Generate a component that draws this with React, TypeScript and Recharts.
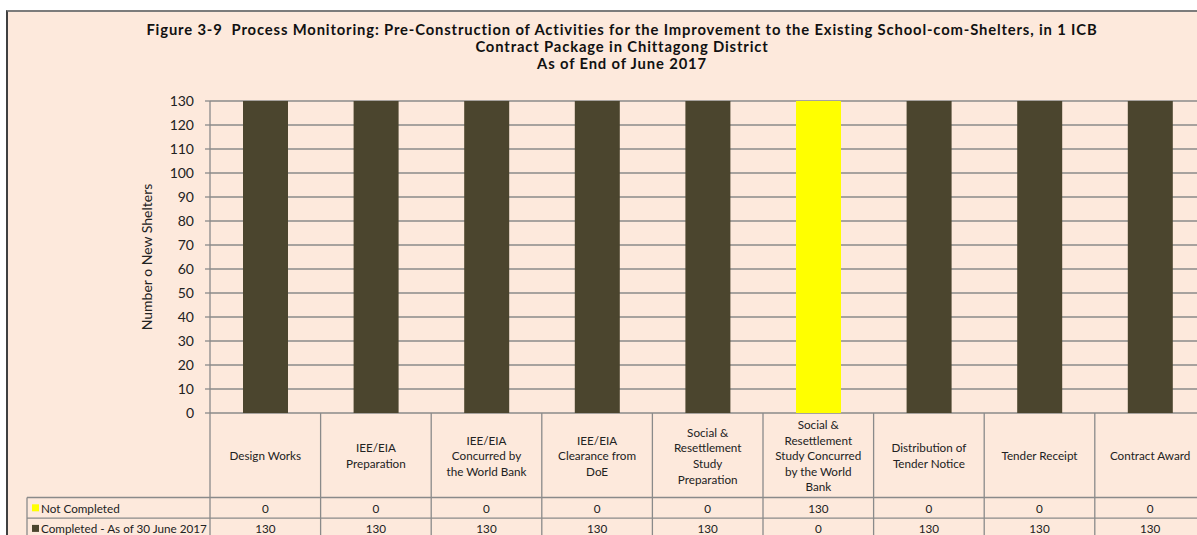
import React from 'react';
import { BarChart, Bar, XAxis, YAxis, CartesianGrid } from 'recharts';

const categories = [
  'Design Works',
  'IEE/EIA Preparation',
  'IEE/EIA Concurred by the World Bank',
  'IEE/EIA Clearance from DoE',
  'Social & Resettlement Study Preparation',
  'Social & Resettlement Study Concurred by the World Bank',
  'Distribution of Tender Notice',
  'Tender Receipt',
  'Contract Award',
];
const categoryLines = [
  ['Design Works'],
  ['IEE/EIA', 'Preparation'],
  ['IEE/EIA', 'Concurred by', 'the World Bank'],
  ['IEE/EIA', 'Clearance from', 'DoE'],
  ['Social &', 'Resettlement', 'Study', 'Preparation'],
  ['Social &', 'Resettlement', 'Study Concurred', 'by the World', 'Bank'],
  ['Distribution of', 'Tender Notice'],
  ['Tender Receipt'],
  ['Contract Award'],
];
const notCompleted = [0, 0, 0, 0, 0, 130, 0, 0, 0];
const completed = [130, 130, 130, 130, 130, 0, 130, 130, 130];
const yTicks = [0, 10, 20, 30, 40, 50, 60, 70, 80, 90, 100, 110, 120, 130];
const seriesNames = ['Not Completed', 'Completed - As of 30 June 2017'];
const titleLines = [
  'Figure 3-9  Process Monitoring: Pre-Construction of Activities for the Improvement to the Existing School-com-Shelters, in 1 ICB',
  'Contract Package in Chittagong District',
  'As of End of June 2017',
];

const data = categories.map((name, i) => ({
  name,
  notCompleted: notCompleted[i],
  completed: completed[i],
}));

const CHART_W = 1300;
const CHART_H = 535;
const PLOT_LEFT = 210;
const PLOT_W = 995.4;
const HEADER_H = 84.5;
const ROW_H = 20.6;
const LEGEND_LEFT = 27;
const GRID = '#8a8a8a';
const DARK = '#4b452e';
const YELLOW = '#ffff00';
const FONT = 'Lato, "Open Sans", sans-serif';
const TFS = 11.7;

const TableTick = (props: any) => {
  const { x, y, payload } = props;
  const i = payload.index;
  const cw = PLOT_W / categories.length;
  const lines = categoryLines[i] || [categories[i]];
  const lh = 15.6;
  const midY = y + HEADER_H / 2;
  const startY = midY - ((lines.length - 1) * lh) / 2;
  const row1 = y + HEADER_H;
  const row2 = row1 + ROW_H;
  const row3 = row2 + ROW_H;
  const left = x - cw / 2;
  const right = x + cw / 2;
  return (
    <g>
      {i === 0 && (
        <g>
          <line x1={left} y1={y} x2={left} y2={row3 + 10} stroke={GRID} strokeWidth={1.3} />
          <line x1={LEGEND_LEFT} y1={row1} x2={left} y2={row1} stroke={GRID} strokeWidth={1.3} />
          <line x1={LEGEND_LEFT} y1={row2} x2={left} y2={row2} stroke={GRID} strokeWidth={1.3} />
          <line x1={LEGEND_LEFT} y1={row1} x2={LEGEND_LEFT} y2={row3 + 10} stroke={GRID} strokeWidth={1.3} />
          <rect x={LEGEND_LEFT + 5} y={row1 + ROW_H / 2 - 3.5} width={7} height={7} fill={YELLOW} />
          <text x={LEGEND_LEFT + 14} y={row1 + ROW_H / 2} dominantBaseline="central" fontSize={TFS} fill="#222" fontFamily={FONT}>
            {seriesNames[0]}
          </text>
          <rect x={LEGEND_LEFT + 5} y={row2 + ROW_H / 2 - 3.5} width={7} height={7} fill={DARK} />
          <text x={LEGEND_LEFT + 14} y={row2 + ROW_H / 2} dominantBaseline="central" fontSize={TFS} fill="#222" fontFamily={FONT}>
            {seriesNames[1]}
          </text>
        </g>
      )}
      <line x1={right} y1={y} x2={right} y2={row3 + 10} stroke={GRID} strokeWidth={1.3} />
      <line x1={left} y1={row1} x2={right} y2={row1} stroke={GRID} strokeWidth={1.3} />
      <line x1={left} y1={row2} x2={right} y2={row2} stroke={GRID} strokeWidth={1.3} />
      {lines.map((ln: string, k: number) => (
        <text key={k} x={x} y={startY + k * lh} textAnchor="middle" dominantBaseline="central" fontSize={TFS} fill="#222" fontFamily={FONT}>
          {ln}
        </text>
      ))}
      <text x={x} y={row1 + ROW_H / 2} textAnchor="middle" dominantBaseline="central" fontSize={TFS} fill="#222" fontFamily={FONT}>
        {notCompleted[i]}
      </text>
      <text x={x} y={row2 + ROW_H / 2} textAnchor="middle" dominantBaseline="central" fontSize={TFS} fill="#222" fontFamily={FONT}>
        {completed[i]}
      </text>
    </g>
  );
};

export default function App() {
  return (
    <div style={{ position: 'absolute', left: 0, top: 0, width: 1197, height: 535, overflow: 'hidden', background: '#ffffff' }}>
      <div
        style={{
          position: 'absolute',
          left: 6,
          top: 10,
          width: 1400,
          height: 700,
          background: '#fde9dc',
          borderTop: '2px solid #7c7c7c',
          borderLeft: '2px solid #404040',
        }}
      />
      <div style={{ position: 'absolute', left: 0, top: 0 }}>
        <svg width={1197} height={90} style={{ position: 'absolute', left: 0, top: 0 }}>
          {titleLines.map((t, k) => (
            <text
              key={k}
              x={622}
              y={29 + k * 16.8}
              textAnchor="middle"
              dominantBaseline="central"
              fontSize={14.8}
              fontWeight="bold"
              fill="#111"
              fontFamily={FONT}
              letterSpacing={0.85}
              style={{ whiteSpace: 'pre' }}
            >
              {t}
            </text>
          ))}
        </svg>
        <BarChart
          width={CHART_W}
          height={CHART_H}
          data={data}
          margin={{ top: 101, right: CHART_W - PLOT_LEFT - PLOT_W, left: 130, bottom: 0 }}
          barSize={45}
        >
          <CartesianGrid horizontal vertical={false} stroke={GRID} strokeWidth={1.3} />
          <XAxis
            dataKey="name"
            height={122}
            axisLine={false}
            tickLine={false}
            tickSize={0}
            tickMargin={0}
            interval={0}
            tick={<TableTick />}
          />
          <YAxis
            width={80}
            domain={[0, 130]}
            ticks={yTicks}
            interval={0}
            axisLine={{ stroke: GRID, strokeWidth: 1.3 }}
            tickLine={{ stroke: GRID, strokeWidth: 1.3 }}
            tickSize={5}
            tickMargin={11}
            tick={{ fontSize: 14, fill: '#222', fontFamily: FONT }}
            label={{ value: 'Number o New Shelters', angle: -90, position: 'insideLeft', dx: 12, style: { textAnchor: 'middle', fontSize: 14, fill: '#222', fontFamily: FONT } }}
          />
          <Bar dataKey="completed" stackId="a" fill={DARK} isAnimationActive={false} />
          <Bar dataKey="notCompleted" stackId="a" fill={YELLOW} isAnimationActive={false} />
        </BarChart>
      </div>
    </div>
  );
}
